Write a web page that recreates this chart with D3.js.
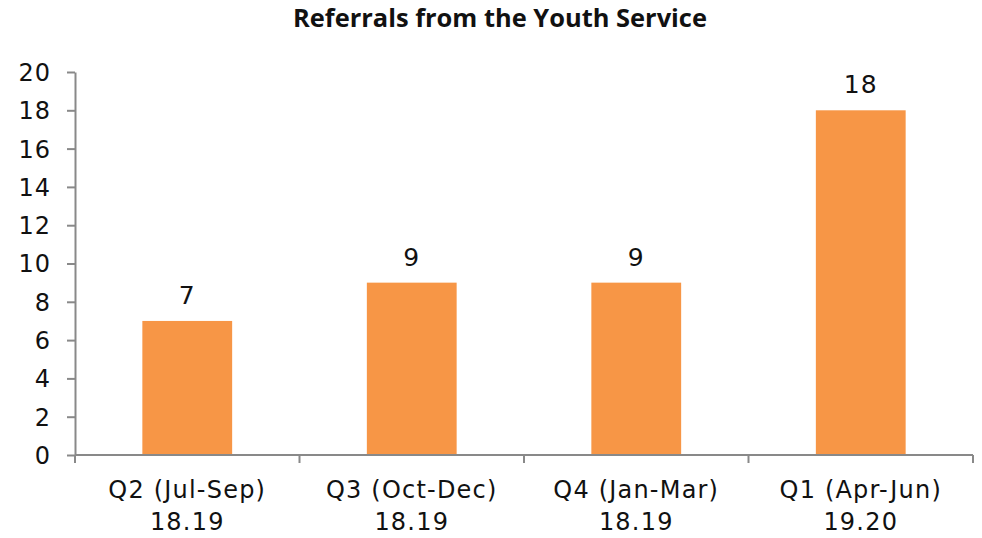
<!DOCTYPE html>
<html>
<head>
<script src="https://cdn.jsdelivr.net/npm/d3@7/dist/d3.min.js"></script>
<style>
  body { margin: 0; background: #fff; }
  text { font-family: "DejaVu Sans", sans-serif; fill: #111; }
</style>
</head>
<body>
<script>
var w = 982, h = 538;

// data
var quarters = ["Q2 (Jul-Sep)", "Q3 (Oct-Dec)", "Q4 (Jan-Mar)", "Q1 (Apr-Jun)"];
var years = ["18.19", "18.19", "18.19", "19.20"];
var referrals = [7, 9, 9, 18];
var yTicks = [0, 2, 4, 6, 8, 10, 12, 14, 16, 18, 20];

var margin = {left: 75, right: 9, top: 72, bottom: 83};

var svg = d3.select("body").append("svg")
  .attr("width", w)
  .attr("height", h);

var x = d3.scaleBand()
  .domain(quarters)
  .range([margin.left, w - margin.right])
  .paddingInner(0.6)
  .paddingOuter(0.3);

var y = d3.scaleLinear()
  .domain([0, 20])
  .range([h - margin.bottom, margin.top]);

// title
var title = svg.append("text")
  .attr("x", 500)
  .attr("y", 27)
  .attr("text-anchor", "middle")
  .style("font-family", "'Open Sans', sans-serif")
  .style("font-weight", "bold")
  .style("font-size", "22px")
  .text("Referrals from the Youth Service");
var tl = title.node().getComputedTextLength();
title.style("font-size", (22 * 414 / tl) + "px");

// bars
svg.selectAll("rect.bar")
  .data(referrals)
  .enter()
  .append("rect")
  .attr("class", "bar")
  .attr("x", (d, i) => x(quarters[i]))
  .attr("y", d => y(d))
  .attr("width", x.bandwidth())
  .attr("height", d => y(0) - y(d))
  .attr("fill", "#F79646");

// value labels
svg.selectAll("text.val")
  .data(referrals)
  .enter()
  .append("text")
  .attr("class", "val")
  .attr("x", (d, i) => x(quarters[i]) + x.bandwidth() / 2)
  .attr("y", d => y(d) - 17)
  .attr("text-anchor", "middle")
  .style("font-size", "25px")
  .style("letter-spacing", "1px")
  .text(d => d);

// y axis
var yAxis = svg.append("g")
  .attr("transform", "translate(" + margin.left + ",0)")
  .call(d3.axisLeft(y).tickValues(yTicks).tickSize(8).tickPadding(16).tickSizeOuter(0));
yAxis.select(".domain").attr("stroke", "#898989").attr("stroke-width", 2);
yAxis.selectAll(".tick line").attr("stroke", "#898989").attr("stroke-width", 2);
yAxis.selectAll(".tick text")
  .style("font-size", "24px")
  .style("font-family", "'DejaVu Sans', sans-serif")
  .style("letter-spacing", "1px")
  .attr("fill", "#111")
  .attr("dy", "0.35em");

// x axis line and boundary ticks
var bounds = d3.range(quarters.length + 1).map(i => margin.left + i * (w - margin.left - margin.right) / quarters.length);
svg.append("line")
  .attr("x1", margin.left).attr("x2", w - margin.right)
  .attr("y1", y(0)).attr("y2", y(0))
  .attr("stroke", "#898989").attr("stroke-width", 2);
svg.selectAll("line.xt")
  .data(bounds)
  .enter()
  .append("line")
  .attr("class", "xt")
  .attr("x1", d => d).attr("x2", d => d)
  .attr("y1", y(0)).attr("y2", y(0) + 8)
  .attr("stroke", "#898989").attr("stroke-width", 2);

// x labels
var xl = svg.selectAll("text.xl")
  .data(quarters)
  .enter()
  .append("text")
  .attr("class", "xl")
  .attr("text-anchor", "middle")
  .style("font-size", "24px")
  .style("letter-spacing", "1.2px");
xl.append("tspan")
  .attr("x", d => x(d) + x.bandwidth() / 2)
  .attr("y", 498)
  .text(d => d);
xl.append("tspan")
  .attr("x", d => x(d) + x.bandwidth() / 2)
  .attr("y", 530)
  .text((d, i) => years[i]);
</script>
</body>
</html>
